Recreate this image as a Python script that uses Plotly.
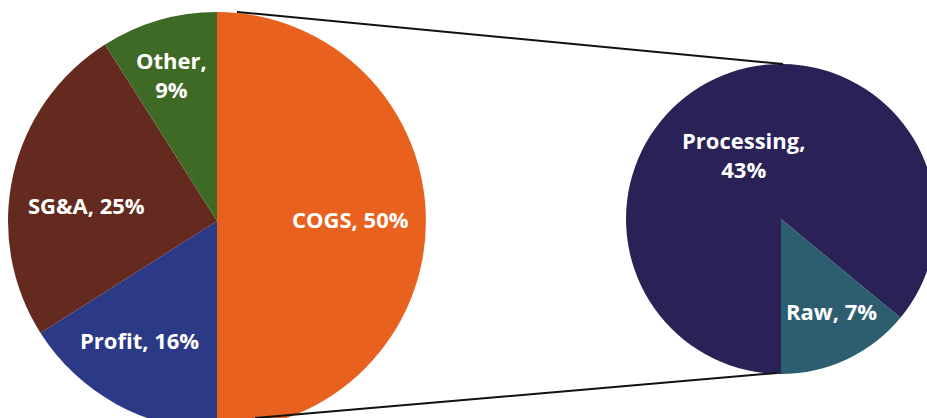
import plotly.graph_objects as go

# ---- data ----
main_labels = ["COGS", "Profit", "SG&A", "Other"]
main_values = [50, 16, 25, 9]
main_colors = ["#E8611E", "#2B3986", "#652A1F", "#3E6A26"]

sub_labels = ["Processing", "Raw"]
sub_values = [43, 7]
sub_colors = ["#2A2257", "#2D5E6F"]

# ---- canvas (slightly larger than the window so the right pie is cut by the edge) ----
W, H = 940, 440


def px(x):
    return x / W


def py(y):
    return 1 - y / H


fig = go.Figure()

# main pie: centre (217, 221), radius 209
fig.add_trace(go.Pie(
    labels=main_labels, values=main_values, sort=False,
    direction="clockwise", rotation=0,
    marker=dict(colors=main_colors, line=dict(width=0)),
    textinfo="none", hoverinfo="label+percent", showlegend=False,
    domain=dict(x=[px(8), px(426)], y=[py(430), py(12)]),
))

# sub pie: centre (781, 219), radius 155
fig.add_trace(go.Pie(
    labels=sub_labels, values=sub_values, sort=False,
    direction="clockwise", rotation=180,
    marker=dict(colors=sub_colors, line=dict(width=0)),
    textinfo="none", hoverinfo="label+value", showlegend=False,
    domain=dict(x=[px(626), px(936)], y=[py(374), py(64)]),
))

# connector lines
for (x0, y0, x1, y1) in [(237, 12, 783, 64), (255, 418, 777, 373)]:
    fig.add_shape(type="line", xref="paper", yref="paper",
                  x0=px(x0), y0=py(y0), x1=px(x1), y1=py(y1),
                  line=dict(color="#111111", width=2))

# data labels
label_pos = {
    "COGS": (350, 219),
    "Profit": (139, 340),
    "SG&A": (86, 205),
    "Other": (171, 75),
    "Processing": (743, 154),
    "Raw": (831, 311),
}
label_text = {
    "Other": "Other,<br>{v}%",
    "Processing": "Processing,<br>{v}%",
}
for lab, val in list(zip(main_labels, main_values)) + list(zip(sub_labels, sub_values)):
    x, y = label_pos[lab]
    txt = label_text.get(lab, lab + ", {v}%").format(v=val)
    fig.add_annotation(x=px(x), y=py(y), xref="paper", yref="paper",
                       text="<b>" + txt + "</b>", showarrow=False,
                       xanchor="center", yanchor="middle",
                       font=dict(family="Open Sans", size=22, color="white"))

fig.update_layout(
    width=W, height=H,
    margin=dict(l=0, r=0, t=0, b=0),
    paper_bgcolor="white", plot_bgcolor="white",
)

fig.write_html(
    "out.html",
    config={"displayModeBar": False},
    post_script=(
        "document.documentElement.style.overflow='hidden';"
        "document.body.style.overflow='hidden';"
        "document.body.style.margin='0';"
    ),
)
